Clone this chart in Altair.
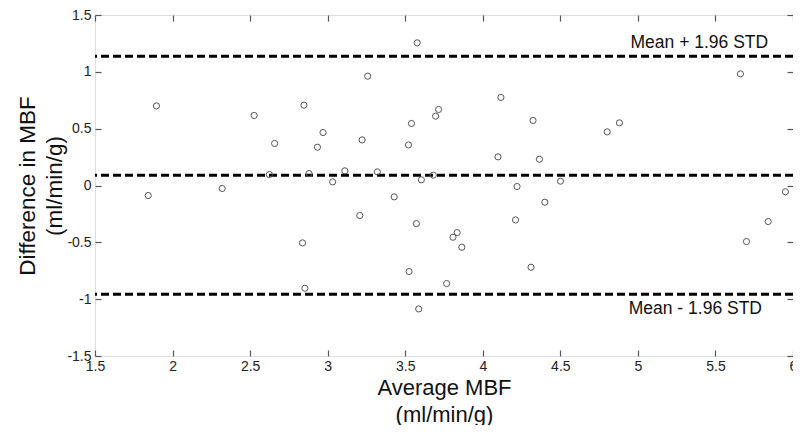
import altair as alt
import pandas as pd

# Bland-Altman data
avg_mbf = [1.843, 1.896, 2.32, 2.526, 2.624, 2.658, 2.838, 2.847, 2.853, 2.88,
           2.934, 2.97, 3.032, 3.111, 3.207, 3.222, 3.258, 3.32, 3.429, 3.521,
           3.525, 3.54, 3.572, 3.577, 3.587, 3.604, 3.681, 3.696, 3.715, 3.767,
           3.808, 3.835, 3.865, 4.098, 4.117, 4.211, 4.221, 4.311, 4.324, 4.365,
           4.40, 4.501, 4.802, 4.881, 5.661, 5.70, 5.84, 5.951]
diff_mbf = [-0.088, 0.70, -0.026, 0.616, 0.097, 0.37, -0.505, 0.707, -0.904, 0.105,
            0.337, 0.466, 0.032, 0.129, -0.264, 0.401, 0.962, 0.12, -0.10, 0.357,
            -0.757, 0.546, -0.335, 1.255, -1.086, 0.05, 0.091, 0.61, 0.669, -0.863,
            -0.455, -0.414, -0.543, 0.252, 0.775, -0.303, -0.009, -0.719, 0.572, 0.231,
            -0.147, 0.038, 0.472, 0.551, 0.982, -0.493, -0.317, -0.055]

limit_values = [1.138, 0.09, -0.957]

label_text = ["Mean + 1.96 STD", "Mean - 1.96 STD"]
label_x = [5.84, 5.80]
label_y = [1.25, -1.086]

x_ticks = [1.5, 2, 2.5, 3, 3.5, 4, 4.5, 5, 5.5, 6]
y_ticks = [-1.5, -1, -0.5, 0, 0.5, 1, 1.5]

pts = pd.DataFrame({"avg": avg_mbf, "diff": diff_mbf})
lims = pd.DataFrame({"lim": limit_values})
labs = pd.DataFrame({"txt": label_text, "lx": label_x, "ly": label_y})

FONT = "Liberation Sans"
xscale = alt.Scale(domain=[1.5, 6], nice=False, zero=False)
yscale = alt.Scale(domain=[-1.5, 1.5], nice=False, zero=False)
lab_expr = "datum.value + ''"

rules = alt.Chart(lims).mark_rule(
    color="black", strokeWidth=3, strokeDash=[8, 4]
).encode(
    y=alt.Y("lim:Q", scale=yscale, axis=None)
)

points = alt.Chart(pts).mark_point(
    shape="circle", filled=False, stroke="#555555", strokeWidth=1, size=38, opacity=1
).encode(
    x=alt.X("avg:Q", scale=xscale,
            axis=alt.Axis(values=x_ticks, labelExpr=lab_expr, offset=-6, tickSize=6,
                          domain=False, grid=False, labelPadding=3, labelFlush=False,
                          labelOverlap=False, tickColor="#555555", tickWidth=1.2,
                          labelFontSize=14, labelColor="#222222", labelFont=FONT,
                          title=["Average MBF", "(ml/min/g)"], titleFont=FONT,
                          titleFontSize=22, titleFontWeight="normal", titleColor="#111111",
                          titleLineHeight=27, titlePadding=4)),
    y=alt.Y("diff:Q", scale=yscale,
            axis=alt.Axis(values=y_ticks, labelExpr=lab_expr, offset=-6, tickSize=6,
                          domain=False, grid=False, labelPadding=4, labelFlush=False,
                          labelOverlap=False, tickColor="#555555", tickWidth=1.2,
                          labelFontSize=14, labelColor="#222222", labelFont=FONT,
                          title=["Difference in MBF", "(ml/min/g)"], titleFont=FONT,
                          titleFontSize=22.5, titleFontWeight="normal", titleColor="#111111",
                          titleLineHeight=27, titlePadding=0))
)

texts = alt.Chart(labs).mark_text(
    align="right", baseline="middle", font=FONT, fontSize=17.5, color="#111111"
).encode(
    x=alt.X("lx:Q", scale=xscale,
            axis=alt.Axis(orient="top", values=x_ticks, labels=False, offset=-6, tickSize=6,
                          domain=False, grid=False, tickColor="#555555", tickWidth=1.2),
            title=None),
    y=alt.Y("ly:Q", scale=yscale,
            axis=alt.Axis(orient="right", values=y_ticks, labels=False, offset=-6, tickSize=6,
                          domain=False, grid=False, tickColor="#555555", tickWidth=1.2),
            title=None),
    text="txt:N"
)

chart = alt.layer(rules, points, texts).resolve_axis(
    x="independent", y="independent"
).properties(
    width=698, height=341,
    autosize=alt.AutoSizeParams(type="none"),
    padding={"left": 87, "top": 7, "right": 0, "bottom": 69}
).configure_view(
    stroke="#555555", strokeWidth=1.3
).configure(background="white")

chart.save("out.html", embed_options={"renderer": "svg", "actions": False})
